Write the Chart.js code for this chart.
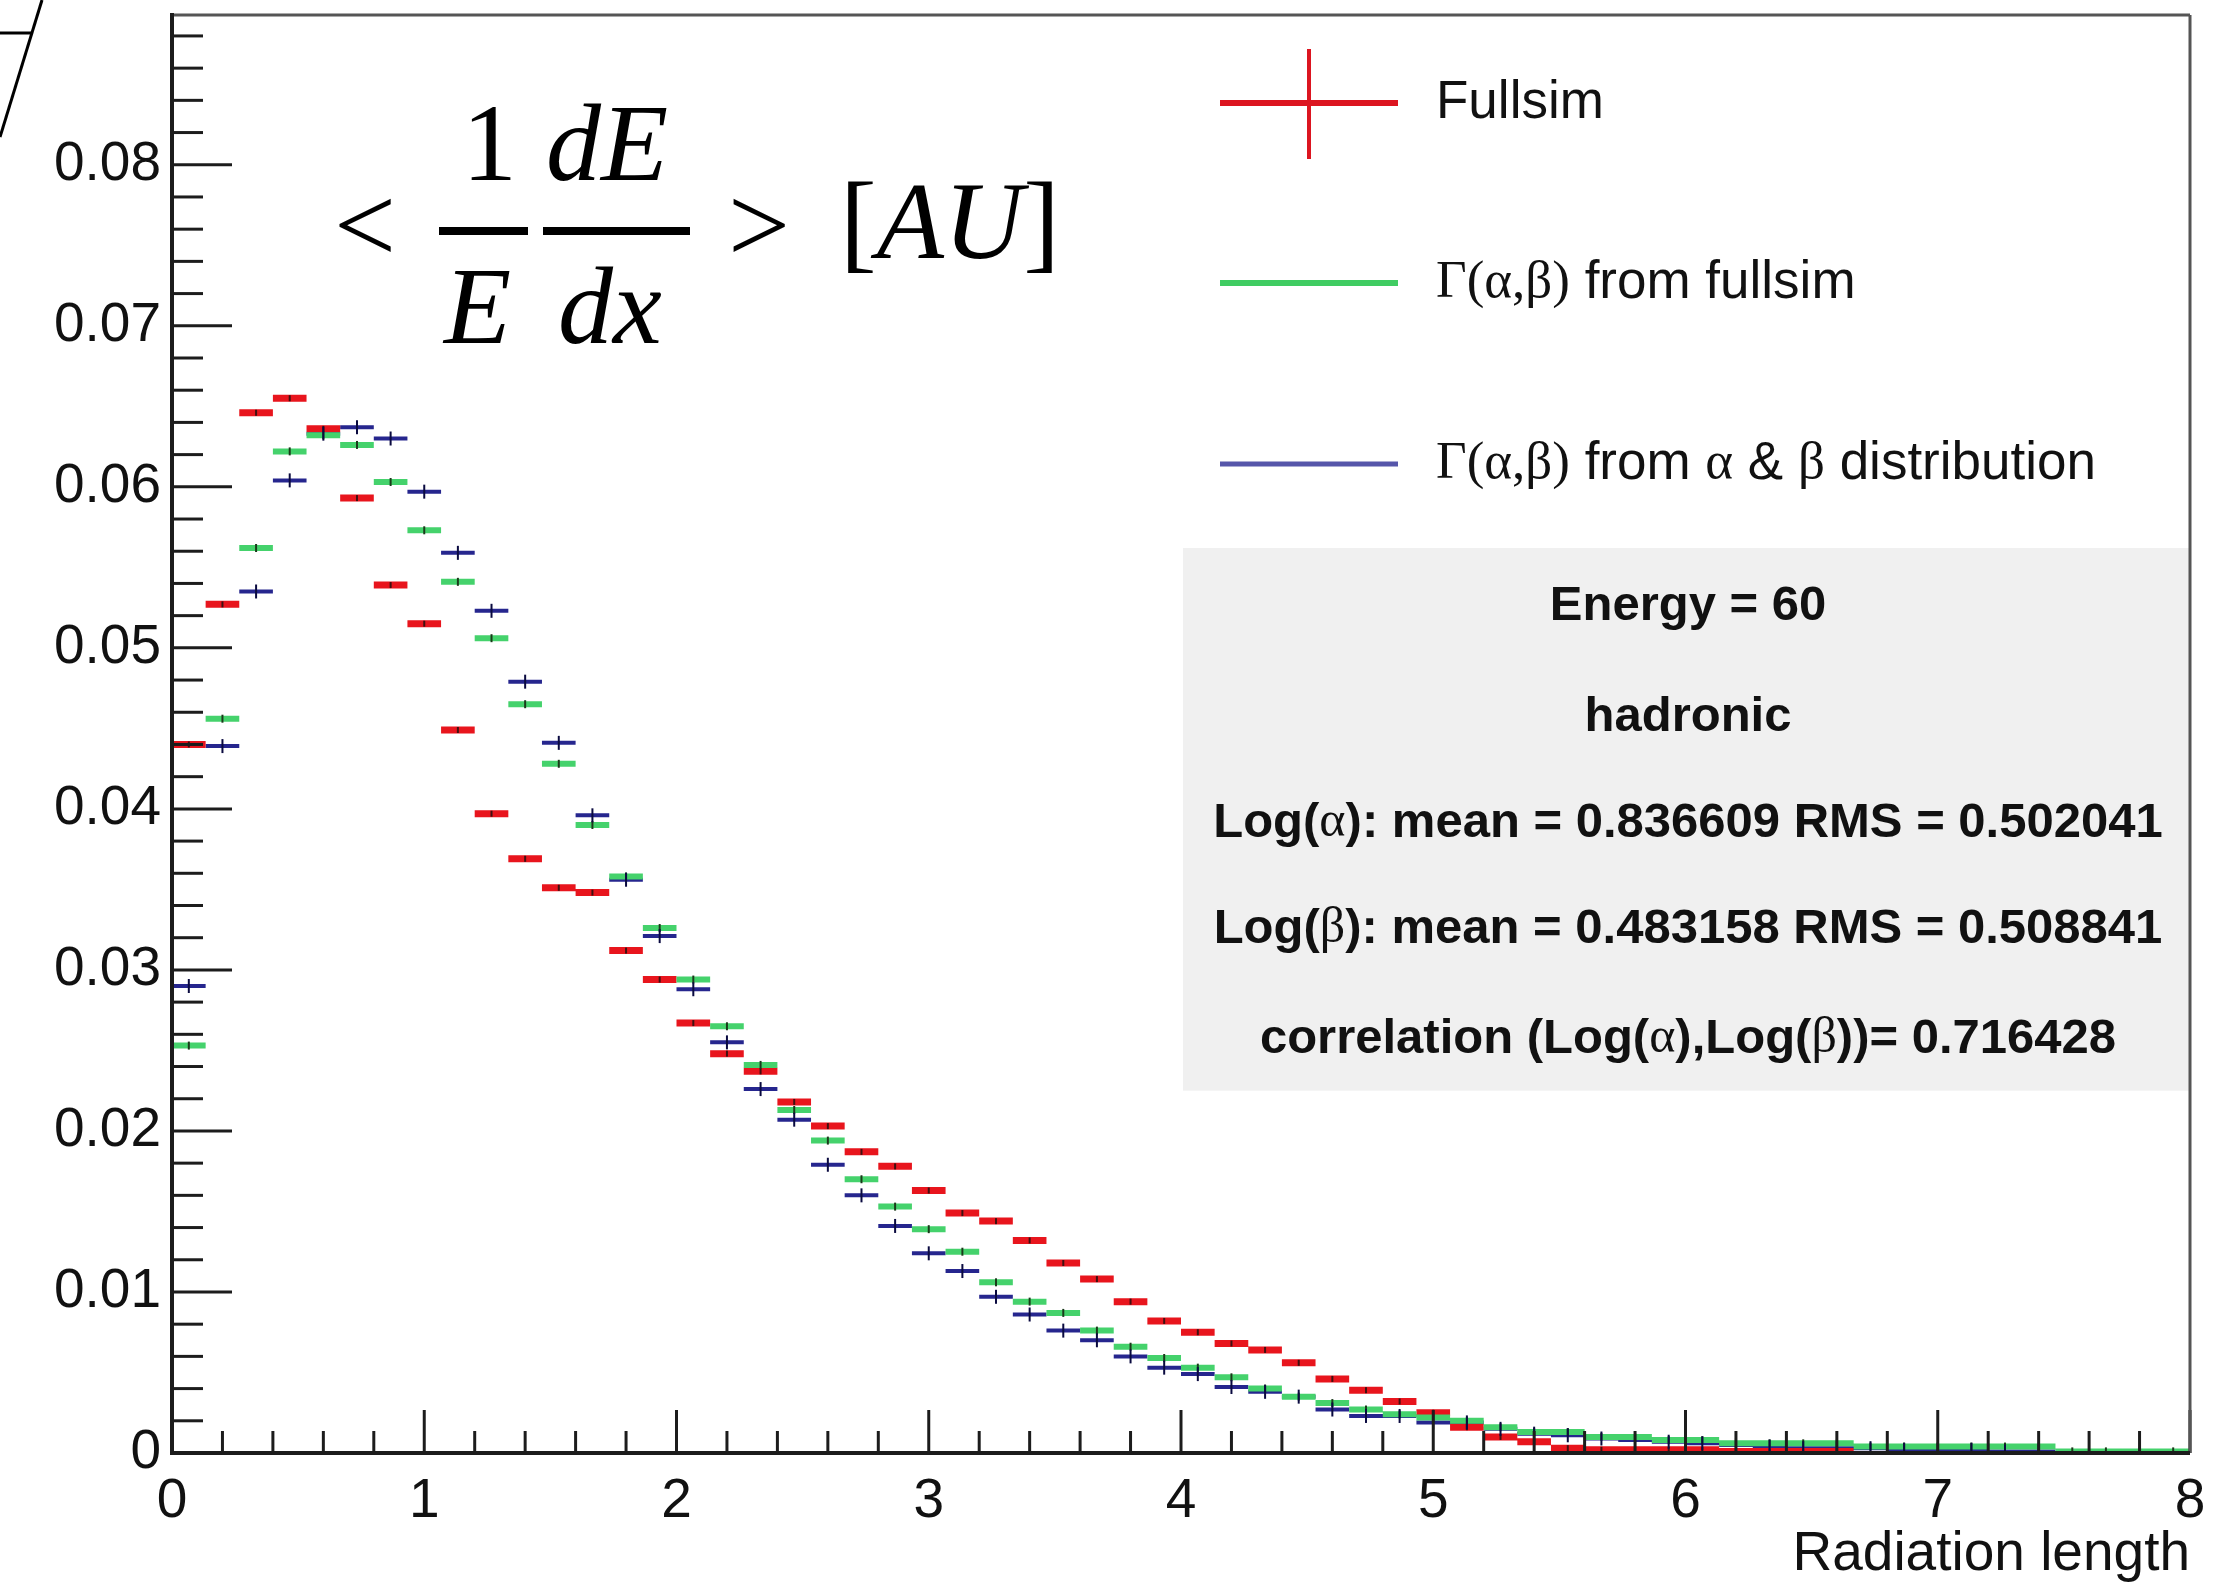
<!DOCTYPE html>
<html><head><meta charset="utf-8">
<script src="https://cdn.jsdelivr.net/npm/chart.js@4.4.1/dist/chart.umd.min.js"></script>
<style>html,body{margin:0;padding:0;background:#fff;}canvas{display:block}</style>
</head><body>
<canvas id="c" width="2234" height="1589"></canvas>
<script>
// ---------- data ----------
const nBins = 60, xMin = 0, xMax = 8;
const xTickLabels = ['0','1','2','3','4','5','6','7','8'];
const yTickLabels = ['0','0.01','0.02','0.03','0.04','0.05','0.06','0.07','0.08'];
const seriesNames = ['Fullsim', 'Γ(α,β) from fullsim', 'Γ(α,β) from α & β distribution'];

const fullsim = [
 0.0440,0.0527,0.0646,0.0655,0.0636,0.0593,0.0539,0.0515,0.0449,0.0397,
 0.0369,0.0351,0.0348,0.0312,0.0294,0.0267,0.0248,0.0237,0.0218,0.0203,
 0.0187,0.0178,0.0163,0.0149,0.0144,0.0132,0.0118,0.0108,0.0094,0.0082,
 0.0075,0.0068,0.0064,0.0056,0.0046,0.0039,0.0032,0.0025,0.0016,0.0010,
 0.0007,0.0003,0.0002,0.0002,0.0002,0.0002,0.0001,0.0001,0.0001,0.0001,
 null,null,null,null,null,null,null,null,null,null];

const gammaFullsim = [
 0.0253,0.0456,0.0562,0.0622,0.0632,0.0626,0.0603,0.0573,0.0541,0.0506,
 0.0465,0.0428,0.0390,0.0358,0.0326,0.0294,0.0265,0.0241,0.0213,0.0194,
 0.0170,0.0153,0.0139,0.0125,0.0106,0.0094,0.0087,0.0076,0.0066,0.0059,
 0.0053,0.0047,0.0040,0.0035,0.0031,0.0027,0.0024,0.0022,0.0020,0.0016,
 0.0013,0.0013,0.0010,0.0010,0.0008,0.0008,0.0006,0.0006,0.0006,0.0006,
 0.0004,0.0004,0.0004,0.0004,0.0004,0.0004,0.0001,0.0001,0.0001,0.0001];

const gammaAlphaBeta = [
 0.0290,0.0439,0.0535,0.0604,0.0633,0.0637,0.0630,0.0597,0.0559,0.0523,
 0.0479,0.0441,0.0396,0.0356,0.0321,0.0288,0.0255,0.0226,0.0207,0.0179,
 0.0160,0.0141,0.0124,0.0113,0.0097,0.0086,0.0076,0.0070,0.0060,0.0053,
 0.0049,0.0041,0.0038,0.0035,0.0027,0.0023,0.0023,0.0019,0.0019,0.0015,
 0.0012,0.0011,0.0009,0.0008,0.0007,0.0006,0.0005,0.0004,0.0003,0.0003,
 0.0003,0.0002,0.0002,0.0002,0.0001,0.0001,null,null,null,null];

const statsLines = [
 [['Energy = 60','s']],
 [['hadronic','s']],
 [['Log(','s'],['α','g'],['): mean = 0.836609 RMS = 0.502041','s']],
 [['Log(','s'],['β','g'],['): mean = 0.483158 RMS = 0.508841','s']],
 [['correlation (Log(','s'],['α','g'],['),Log(','s'],['β','g'],['))= 0.716428','s']]
];

// ---------- helpers ----------
const binW = (xMax - xMin) / nBins;
function stepPoints(vals){
  const pts = [];
  vals.forEach((v,i)=>{
    if (v === null) return;
    const lo = xMin + i*binW, hi = lo + binW;
    pts.push({x:lo,y:v},{x:hi,y:v},{x:hi,y:null});
  });
  return pts;
}
function centerPoints(vals){
  const pts = [];
  vals.forEach((v,i)=>{ if (v!==null) pts.push({x:xMin+(i+0.5)*binW, y:v}); });
  return pts;
}

const RED = '#e8151d', GREEN = '#45d26c', BLUE = '#26268e';

function stepDS(vals, color, width, order){
  return {type:'line', data:stepPoints(vals), borderColor:color, borderWidth:width,
    pointRadius:0, spanGaps:false, tension:0, borderCapStyle:'butt', order:order, fill:false};
}
function errDS(vals, color, r, w, order){
  return {type:'line', data:centerPoints(vals), showLine:false, pointStyle:'line', rotation:90,
    pointRadius:r, pointBorderColor:color, pointBackgroundColor:color, pointBorderWidth:w, order:order};
}

function drawRich(ctx, segs, x, y, align, fonts){
  let total = 0;
  segs.forEach(s=>{ ctx.font = fonts[s[1]]; total += ctx.measureText(s[0]).width; });
  let cx = align==='center' ? x - total/2 : (align==='right' ? x - total : x);
  segs.forEach(s=>{ ctx.font = fonts[s[1]]; ctx.textAlign='left'; ctx.fillText(s[0], cx, y); cx += ctx.measureText(s[0]).width; });
}
function line(ctx,x1,y1,x2,y2){ ctx.beginPath(); ctx.moveTo(x1,y1); ctx.lineTo(x2,y2); ctx.stroke(); }

const decor = {
  id:'rootDecor',
  afterDatasetsDraw(chart){
    const {ctx, chartArea:a, scales:{x,y}} = chart;
    ctx.save();
    // stats box
    const bx0 = 1183, by0 = y.getPixelForValue(0.0562), by1 = y.getPixelForValue(0.0225);
    ctx.fillStyle = '#f0f0f0';
    ctx.fillRect(bx0, by0, a.right - bx0, by1 - by0);
    ctx.fillStyle = '#111';
    ctx.textBaseline = 'middle';
    const sf = {s:'bold 49px "Liberation Sans", Arial, sans-serif', g:'50px "Liberation Serif", serif'};
    const ys = [606, 717, 823, 929, 1039];
    statsLines.forEach((ln,i)=> drawRich(ctx, ln, 1688, ys[i], 'center', sf));

    // legend
    const lx0 = 1220, lx1 = 1398, tx = 1436;
    const ly = [103, 283, 464];
    ctx.lineCap = 'butt';
    ctx.strokeStyle = '#dc1520'; ctx.lineWidth = 6; line(ctx, lx0, ly[0], lx1, ly[0]);
    ctx.lineWidth = 4; line(ctx, (lx0+lx1)/2, ly[0]-54, (lx0+lx1)/2, ly[0]+56);
    ctx.strokeStyle = '#40cc62'; ctx.lineWidth = 6; line(ctx, lx0, ly[1], lx1, ly[1]);
    ctx.strokeStyle = '#5656aa'; ctx.lineWidth = 5; line(ctx, lx0, ly[2], lx1, ly[2]);
    const lf = {s:'53px "Liberation Sans", Arial, sans-serif', g:'53px "Liberation Serif", serif'};
    ctx.fillStyle = '#111';
    drawRich(ctx, [[seriesNames[0],'s']], tx, ly[0], 'left', lf);
    drawRich(ctx, [['Γ(α,β)','g'],[' from fullsim','s']], tx, ly[1], 'left', lf);
    drawRich(ctx, [['Γ(α,β)','g'],[' from ','s'],['α','g'],[' & ','s'],['β','g'],[' distribution','s']], tx, ly[2], 'left', lf);

    // y-axis label formula (Times style)
    ctx.fillStyle = '#000';
    ctx.textBaseline = 'alphabetic';
    const up = '110px "Liberation Serif", serif', it = 'italic 110px "Liberation Serif", serif';
    ctx.font = up; ctx.textAlign = 'left';
    ctx.fillText('<', 334, 262);
    ctx.fillText('1', 462, 180);
    ctx.font = it; ctx.fillText('dE', 546, 180);
    ctx.fillText('E', 444, 343);
    ctx.fillText('dx', 558, 343);
    ctx.fillRect(439, 227, 89, 8);
    ctx.fillRect(543, 227, 147, 8);
    ctx.font = up; ctx.fillText('>', 728, 262);
    drawRich(ctx, [['[','u'],['AU','i'],[']','u']], 840, 258, 'left', {u:up, i:it});

    // x-axis title
    ctx.font = '55px "Liberation Sans", Arial, sans-serif';
    ctx.textAlign = 'right'; ctx.textBaseline = 'alphabetic';
    ctx.fillStyle = '#111';
    ctx.fillText('Radiation length', a.right, 1570);

    // inward ticks
    ctx.strokeStyle = '#1c1c1c'; ctx.lineWidth = 3;
    for (let k=0; k<=40; k++){
      const px = x.getPixelForValue(xMin + k*0.2);
      line(ctx, px, a.bottom, px, a.bottom - (k%5===0 ? 43 : 22));
    }
    for (let k=0; k<=44; k++){
      const v = k*0.002; if (v > y.max) break;
      const py = y.getPixelForValue(v);
      line(ctx, a.left, py, a.left + (k%5===0 ? 60 : 31), py);
    }
    // frame
    ctx.strokeStyle = '#555'; ctx.lineWidth = 3;
    line(ctx, a.left, a.top, a.right, a.top);
    line(ctx, a.right, a.top, a.right, a.bottom);
    ctx.strokeStyle = '#1c1c1c'; ctx.lineWidth = 4;
    line(ctx, a.left, a.top - 2, a.left, a.bottom + 2);
    line(ctx, a.left - 2, a.bottom, a.right, a.bottom);

    // stray cropped stroke at top-left corner
    ctx.strokeStyle = '#000'; ctx.lineWidth = 3;
    line(ctx, 42, 0, 0, 137);
    line(ctx, 0, 33, 32, 33);
    ctx.restore();
  }
};

new Chart(document.getElementById('c').getContext('2d'), {
  type:'line',
  data:{datasets:[
    stepDS(gammaFullsim, GREEN, 6, 3),
    stepDS(fullsim, RED, 7, 4),
    stepDS(gammaAlphaBeta, BLUE, 4, 5),
    errDS(gammaAlphaBeta, '#0a0a40', 7, 2, 1),
    errDS(gammaFullsim, '#1a3a1a', 4, 2, 2),
    errDS(fullsim, '#401010', 3, 2, 2)
  ]},
  options:{
    responsive:false, animation:false, devicePixelRatio:1,
    layout:{padding:{top:15, right:44, left:0, bottom:0}},
    plugins:{legend:{display:false}, tooltip:{enabled:false}},
    scales:{
      x:{type:'linear', min:xMin, max:xMax,
        afterFit(s){ s.height = 136; s.paddingLeft = 0; s.paddingRight = 0; },
        grid:{display:false, drawTicks:false}, border:{display:false},
        ticks:{stepSize:1, includeBounds:false, autoSkip:false, maxRotation:0, padding:16,
          color:'#111', font:{size:55, family:'"Liberation Sans", Arial, sans-serif'},
          callback:(v,i)=> xTickLabels[Math.round(v)] }},
      y:{type:'linear', min:0, max:0.0893,
        afterFit(s){ s.width = 172; s.paddingTop = 0; s.paddingBottom = 0; },
        grid:{display:false, drawTicks:false}, border:{display:false},
        ticks:{stepSize:0.01, includeBounds:false, autoSkip:false, padding:11,
          color:'#111', font:{size:55, family:'"Liberation Sans", Arial, sans-serif'},
          callback:(v)=> yTickLabels[Math.round(v*100)] }}
    }
  },
  plugins:[decor]
});
</script>
</body></html>
